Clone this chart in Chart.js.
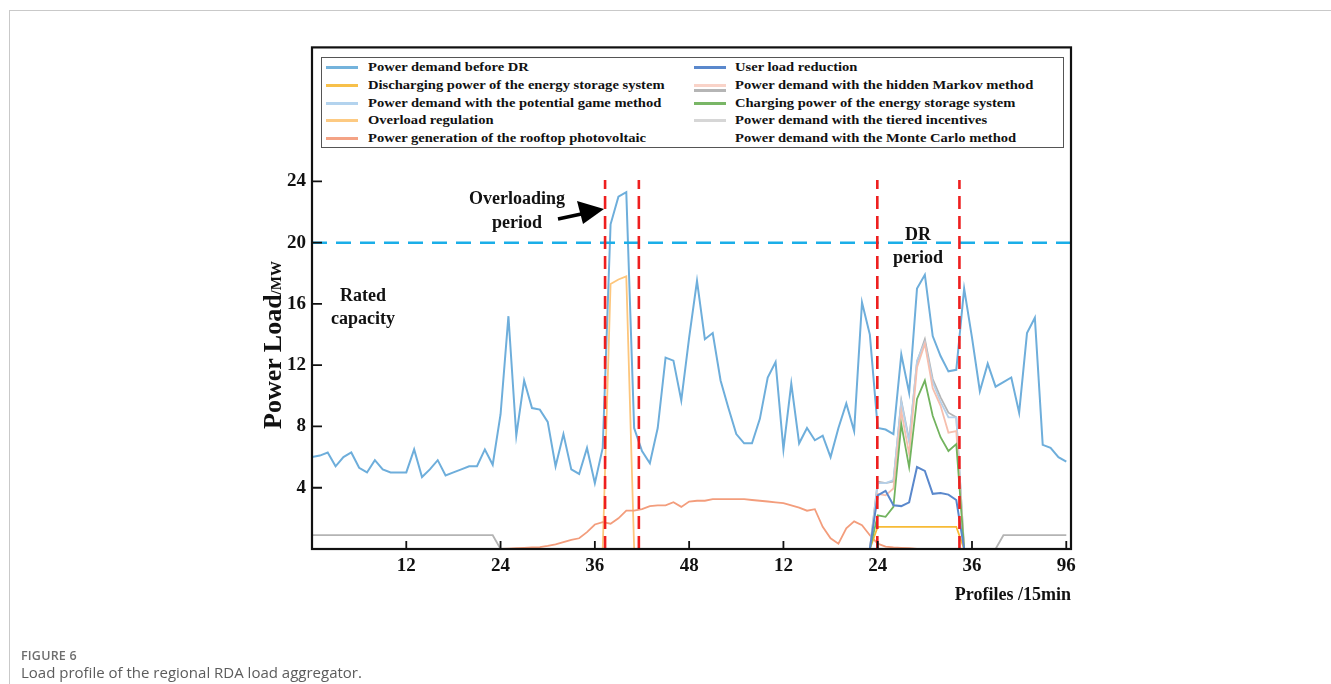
<!DOCTYPE html>
<html>
<head>
<meta charset="utf-8">
<script src="https://cdn.jsdelivr.net/npm/chart.js@4.4.0/dist/chart.umd.min.js"></script>
<style>
  html, body { margin:0; padding:0; background:#fff; }
  body { width:1331px; height:684px; position:relative; overflow:hidden; }
  .fig-border { position:absolute; left:9px; top:10px; width:1330px; height:700px; border-top:1px solid #c9c9c9; border-left:1px solid #c9c9c9; }
  #chartWrap { position:absolute; left:200px; top:30px; width:900px; height:580px; }
  .serif { font-family:'Liberation Serif','DejaVu Serif',serif; font-weight:bold; color:#111; }
  .legend { position:absolute; left:321px; top:57px; width:741px; height:89px; border:1px solid #555; background:#fff; }
  .lg-item { position:absolute; font-size:13px; line-height:14px; white-space:nowrap; transform:scaleX(1.12); transform-origin:left center; }
  .lg-line { position:absolute; height:3px; }
  .note { position:absolute; font-size:18px; line-height:20px; text-align:center; transform:translateX(-50%); white-space:nowrap; }
  .ytitle { position:absolute; left:273px; top:345px; transform:translate(-50%,-50%) rotate(-90deg); white-space:nowrap; }
  .caption-h { position:absolute; left:21px; top:647px; font-family:'Open Sans','Noto Sans',sans-serif; font-size:12.5px; font-weight:600; color:#6e6e6e; letter-spacing:0.2px; }
  .caption { position:absolute; left:21px; top:662px; font-family:'Open Sans','Noto Sans',sans-serif; font-size:15px; color:#5c5c5c; }
</style>
</head>
<body>
<div class="fig-border"></div>
<div id="chartWrap"><canvas id="loadChart"></canvas></div>

<!-- legend -->
<div class="legend serif" id="legend"></div>

<!-- annotations -->
<div class="note serif" style="left:517px; top:188px;">Overloading</div>
<div class="note serif" style="left:517px; top:212px;">period</div>
<svg style="position:absolute; left:0; top:0;" width="1331" height="684">
  <line x1="558" y1="219" x2="586" y2="213" stroke="#000" stroke-width="3.5"/>
  <polygon points="604,209 577,201 583,224" fill="#000"/>
</svg>
<div class="note serif" style="left:363px; top:285px;">Rated</div>
<div class="note serif" style="left:363px; top:308px;">capacity</div>
<div class="note serif" style="left:918px; top:224px;">DR</div>
<div class="note serif" style="left:918px; top:247px;">period</div>
<div class="ytitle serif"><span style="font-size:26px">Power Load</span><span style="font-size:15px">/MW</span></div>

<div class="caption-h">FIGURE 6</div>
<div class="caption">Load profile of the regional RDA load aggregator.</div>

<script>
// ── Data ─────────────────────────────────────
const xTickValues = [12, 24, 36, 48, 60, 72, 84, 96];
const xTickLabels = ['12', '24', '36', '48', '12', '24', '36', '96'];
const yTickValues = [4, 8, 12, 16, 20, 24];

const demandBeforeDR = [
  6.0,6.1,6.3,5.4,6.0,6.3,5.3,5.0,5.8,5.2,
  5.0,5.0,5.0,6.5,4.7,5.2,5.8,4.8,5.0,5.2,
  5.4,5.4,6.5,5.5,8.8,15.2,7.4,11.0,9.2,9.1,
  8.3,5.4,7.5,5.2,4.9,6.6,4.3,6.6,21.2,23.0,
  23.3,7.9,6.4,5.6,7.9,12.5,12.3,9.7,13.8,17.5,
  13.7,14.1,11.0,9.2,7.5,6.9,6.9,8.5,11.2,12.2,
  6.5,10.8,6.9,7.9,7.1,7.4,6.0,7.9,9.5,7.7,
  16.1,14.0,7.9,7.8,7.5,12.7,10.2,17.0,17.9,13.9,
  12.6,11.6,11.7,17.0,13.8,10.3,12.1,10.6,10.9,11.2,
  8.9,14.1,15.1,6.8,6.6,6.0,5.7
];

const pvGeneration = [
  0,0,0,0,0,0,0,0,0,0,
  0,0,0,0,0,0,0,0,0,0,
  0,0,0,0,0,0.02,0.05,0.08,0.1,0.12,
  0.2,0.3,0.45,0.6,0.7,1.1,1.6,1.75,1.65,2.0,
  2.5,2.5,2.6,2.8,2.85,2.85,3.05,2.75,3.1,3.15,
  3.15,3.25,3.25,3.25,3.25,3.25,3.2,3.15,3.1,3.05,
  3.0,2.85,2.7,2.5,2.6,1.45,0.7,0.35,1.35,1.8,
  1.55,0.9,0.35,0.15,0.1,0.07,0.05,0,0,0,
  0,0,0,0,0,0,0,0,0,0,
  0,0,0,0,0,0,0
];

const overloadRegulation = [
  0,0,0,0,0,0,0,0,0,0,
  0,0,0,0,0,0,0,0,0,0,
  0,0,0,0,0,0,0,0,0,0,
  0,0,0,0,0,0,0,0,17.3,17.6,
  17.8,0,0,0,0,0,0,0,0,0,
  0,0,0,0,0,0,0,0,0,0,
  0,0,0,0,0,0,0,0,0,0,
  0,0,0,0,0,0,0,0,0,0,
  0,0,0,0,0,0,0,0,0,0,
  0,0,0,0,0,0,0
];

const tieredIncentives = [
  0.9,0.9,0.9,0.9,0.9,0.9,0.9,0.9,0.9,0.9,
  0.9,0.9,0.9,0.9,0.9,0.9,0.9,0.9,0.9,0.9,
  0.9,0.9,0.9,0.9,0,0,0,0,0,0,
  0,0,0,0,0,0,0,0,0,0,
  0,0,0,0,0,0,0,0,0,0,
  0,0,0,0,0,0,0,0,0,0,
  0,0,0,0,0,0,0,0,0,0,
  0,0,4.4,4.3,4.4,9.7,7.1,12.2,13.7,11.1,
  9.9,8.9,8.6,0,0,0,0,0,0.9,0.9,
  0.9,0.9,0.9,0.9,0.9,0.9,0.9
];

// DR period only (profiles 71..83)
const drIdx          = [71, 72, 73, 74, 75, 76, 77, 78, 79, 80, 81, 82, 83];
const potentialGame  = [0, 4.3, 4.3, 4.5, 9.6, 7.0, 12.3, 13.5, 10.9, 9.6, 8.6, 8.6, 0];
const hiddenMarkov   = [0, 3.6, 3.5, 3.95, 9.0, 6.2, 11.85, 13.4, 10.5, 9.35, 7.6, 7.7, 0];
const chargingESS    = [0, 2.2, 2.1, 2.75, 8.15, 5.35, 9.8, 11.0, 8.7, 7.3, 6.4, 6.85, 0];
const userReduction  = [0, 3.5, 3.8, 2.85, 2.8, 3.05, 5.35, 5.1, 3.6, 3.65, 3.55, 3.2, 0];
const dischargingESS = [0, 1.45, 1.45, 1.45, 1.45, 1.45, 1.45, 1.45, 1.45, 1.45, 1.45, 1.45, 0];

const ratedCapacity = 20;
const periodBounds = [37.3, 41.6, 71.95, 82.4];
const periodTop = 24.1;

// ── Legend ───────────────────────────────────
const legendRows = [
  {text:'Power demand before DR', color:'#74b3dc', col:0, row:0},
  {text:'Discharging power of the energy storage system', color:'#f7c04a', col:0, row:1},
  {text:'Power demand with the potential game method', color:'#b3d3ee', col:0, row:2},
  {text:'Overload regulation', color:'#fdca82', col:0, row:3},
  {text:'Power generation of the rooftop photovoltaic', color:'#f4a385', col:0, row:4},
  {text:'User load reduction', color:'#5a88cc', col:1, row:0},
  {text:'Power demand with the hidden Markov method', color:'#f9d3c8', col:1, row:1, extra:'#b5b5b5'},
  {text:'Charging power of the energy storage system', color:'#79b666', col:1, row:2},
  {text:'Power demand with the tiered incentives', color:'#d6d6d6', col:1, row:3},
  {text:'Power demand with the Monte Carlo method', color:'#ffffff', col:1, row:4}
];
const lg = document.getElementById('legend');
legendRows.forEach(r => {
  const top = 2 + r.row * 17.8;
  const lx = r.col === 0 ? 4 : 372, tx = r.col === 0 ? 46 : 413;
  const ln = document.createElement('div');
  ln.className = 'lg-line';
  ln.style.cssText = `left:${lx}px;top:${top + 6}px;width:32px;background:${r.color}`;
  lg.appendChild(ln);
  if (r.extra) {
    const l2 = document.createElement('div');
    l2.className = 'lg-line';
    l2.style.cssText = `left:${lx}px;top:${top + 11}px;width:32px;background:${r.extra}`;
    lg.appendChild(l2);
  }
  const t = document.createElement('div');
  t.className = 'lg-item';
  t.style.cssText = `left:${tx}px;top:${top}px`;
  t.textContent = r.text;
  lg.appendChild(t);
});

// ── Chart ────────────────────────────────────
const serif = "'Liberation Serif','DejaVu Serif',serif";
const idx = demandBeforeDR.map((_, i) => i);
const full = arr => arr.map((v, i) => ({x:i, y:v}));
const dr = arr => arr.map((v, i) => ({x:drIdx[i], y:v}));
const line = (data, color, w, order) => ({data, borderColor:color, borderWidth:w, pointRadius:0, tension:0, fill:false, order});

const datasets = [];
periodBounds.forEach(b => {
  datasets.push({...line([{x:b, y:0}, {x:b, y:periodTop}], '#ee1f1f', 2.6, 0), borderDash:[13, 7]});
});
datasets.push({...line([{x:0, y:ratedCapacity}, {x:96.6, y:ratedCapacity}], '#1aaee8', 2.6, 1), borderDash:[15, 9]});
datasets.push(line(full(demandBeforeDR), '#6eaedb', 2, 2));
datasets.push(line(dr(userReduction), '#5a88cc', 2, 3));
datasets.push(line(dr(chargingESS), '#72b35e', 1.8, 4));
datasets.push(line(dr(hiddenMarkov), '#f6bfae', 1.8, 5));
datasets.push(line(dr(potentialGame), '#b6d1ea', 1.8, 6));
datasets.push(line(full(tieredIncentives), '#b4b4b4', 1.8, 7));
datasets.push(line(dr(dischargingESS), '#f7bb36', 1.8, 8));
datasets.push(line(full(pvGeneration), '#f39d7c', 1.8, 9));
datasets.push(line(full(overloadRegulation), '#fdc67c', 1.8, 10));

const frame = {
  id:'frame',
  afterDatasetsDraw(c) {
    const {ctx, chartArea:a, scales:{x, y}} = c;
    ctx.save();
    ctx.strokeStyle = '#111';
    ctx.lineWidth = 2.2;
    ctx.strokeRect(a.left, a.top, a.right - a.left, a.bottom - a.top);
    ctx.lineWidth = 1.8;
    ctx.beginPath();
    x.ticks.forEach(t => { const px = x.getPixelForValue(t.value); ctx.moveTo(px, a.bottom); ctx.lineTo(px, a.bottom - 8); });
    y.ticks.forEach(t => { const py = y.getPixelForValue(t.value); ctx.moveTo(a.left, py); ctx.lineTo(a.left + 10, py); });
    ctx.stroke();
    ctx.restore();
  }
};

new Chart(document.getElementById('loadChart'), {
  type:'line',
  data:{labels:idx, datasets},
  options:{
    responsive:true, maintainAspectRatio:false, animation:false,
    layout:{padding:{left:0, right:29, top:14, bottom:0}},
    plugins:{legend:{display:false}, tooltip:{enabled:false}},
    scales:{
      x:{
        type:'linear', min:0, max:96.6,
        afterBuildTicks:s => { s.ticks = xTickValues.map(v => ({value:v})); },
        afterFit:s => { s.height = 61; },
        grid:{display:false, drawTicks:false}, border:{display:false},
        ticks:{color:'#111', padding:6, maxRotation:0, autoSkip:false,
          font:{family:serif, size:19, weight:'bold'},
          callback:v => xTickLabels[xTickValues.indexOf(v)]},
        title:{display:true, text:'Profiles /15min', align:'end', color:'#111',
          font:{family:serif, size:18, weight:'bold'}, padding:{top:0, bottom:4}}
      },
      y:{
        min:0, max:32.75,
        afterBuildTicks:s => { s.ticks = yTickValues.map(v => ({value:v})); },
        afterFit:s => { s.width = 112; },
        grid:{display:false, drawTicks:false}, border:{display:false},
        ticks:{color:'#111', padding:6, font:{family:serif, size:19, weight:'bold'}}
      }
    }
  },
  plugins:[frame]
});
</script>
</body>
</html>
